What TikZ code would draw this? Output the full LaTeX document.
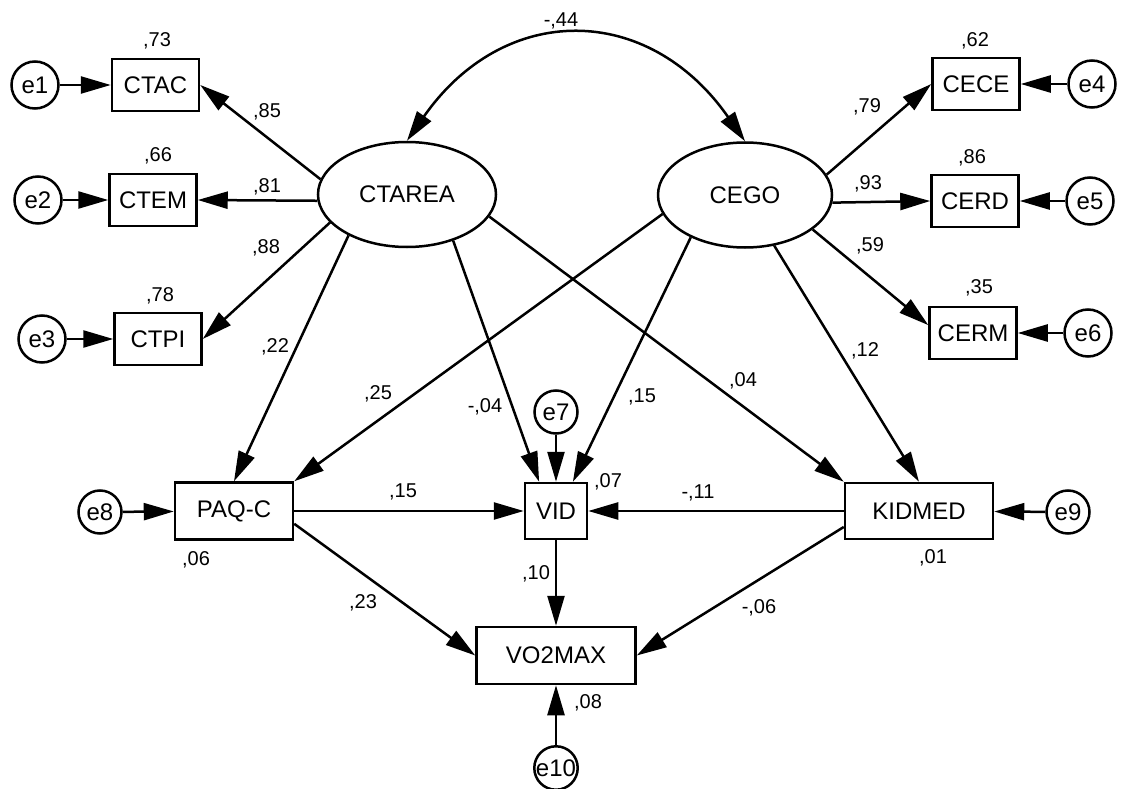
\documentclass[tikz,border=0pt]{standalone}
\usepackage{fontspec}
\setmainfont{Liberation Sans}
\usepackage{tikz}
\usetikzlibrary{arrows.meta}
\usetikzlibrary{shapes.geometric}
\tikzset{
    tnode/.style = {align=center, inner sep=0pt, text centered, draw=black, line width=2.5pt, font=\fontsize{24}{28}\selectfont},
    lat_node/.style = {tnode, ellipse, minimum width=178pt, minimum height=105pt},
    obs_node/.style = {tnode, rectangle, minimum width=87pt, minimum height=52pt},
    err_node/.style = {tnode, circle, minimum size=47pt},
    serr_node/.style = {tnode, circle, minimum size=43pt},
    coef/.style = {inner sep=0pt, font=\fontsize{20}{24}\selectfont}
}

\begin{document}
\begin{tikzpicture}[x=1pt, y=-1pt, line width=2.5pt, >={Triangle[length=30pt, width=17pt]}]
    \useasboundingbox (0,0) rectangle (1128,789);
    \node [lat_node] (CTAREA) at (407,194.5) {CTAREA};
    \node [lat_node, minimum width=174pt] (CEGO) at (745,195) {CEGO};
    \node [obs_node] (CTAC) at (155.5,85) {CTAC};
    \node [obs_node] (CTEM) at (153,200) {CTEM};
    \node [obs_node] (CTPI) at (158,339) {CTPI};
    \node [obs_node] (CECE) at (976,84) {CECE};
    \node [obs_node] (CERD) at (975,201) {CERD};
    \node [obs_node] (CERM) at (973,333) {CERM};
    \node [err_node] (e1) at (35,85) {e1};
    \node [err_node] (e2) at (38,200) {e2};
    \node [err_node] (e3) at (42,339) {e3};
    \node [err_node] (e4) at (1092,84) {e4};
    \node [err_node] (e5) at (1090,201) {e5};
    \node [err_node] (e6) at (1088,333) {e6};
    \node [obs_node, minimum width=118pt, minimum height=57pt] (PAQC) at (234,511) {PAQ-C};
    \node [obs_node, minimum width=62pt, minimum height=56pt] (VID) at (556,511) {VID};
    \node [obs_node, minimum width=148pt, minimum height=56pt] (KIDMED) at (919,511) {KIDMED};
    \node [obs_node, minimum width=159pt, minimum height=57pt] (VO2MAX) at (556,655.5) {VO2MAX};
    \node [serr_node] (e7) at (556,412) {e7};
    \node [serr_node] (e8) at (100,512) {e8};
    \node [serr_node] (e9) at (1068,512) {e9};
    \node [serr_node] (e10) at (556,768) {e10};

    \node [coef] (c_ctac) at (157,41) {,73};
    \node [coef] (c_ctem) at (158,156) {,66};
    \node [coef] (c_ctpi) at (160,296) {,78};
    \node [coef] (c_cece) at (975,41) {,62};
    \node [coef] (c_cerd) at (972,158) {,86};
    \node [coef] (c_cerm) at (979,288) {,35};
    \node [coef] (c_paqc) at (196,560) {,06};
    \node [coef] (c_vid) at (608,482) {,07};
    \node [coef] (c_kidmed) at (933,558) {,01};
    \node [coef] (c_vo2max) at (588,703) {,08};
    \node [coef] (w_ctac) at (267,112) {,85};
    \node [coef] (w_ctem) at (267,187) {,81};
    \node [coef] (w_ctpi) at (266,248) {,88};
    \node [coef] (w_cece) at (867,107) {,79};
    \node [coef] (w_cerd) at (868,184) {,93};
    \node [coef] (w_cerm) at (870,246) {,59};
    \node [coef] (w_cov) at (561,21) {-,44};
    \node [coef] (b_1) at (275,347) {,22};
    \node [coef] (b_2) at (378,394) {,25};
    \node [coef] (b_3) at (485,407) {-,04};
    \node [coef] (b_4) at (642,397) {,15};
    \node [coef] (b_5) at (743,381) {,04};
    \node [coef] (b_6) at (865,351) {,12};
    \node [coef] (b_7) at (403,492) {,15};
    \node [coef] (b_8) at (698,493) {-,11};
    \node [coef] (b_9) at (536,574) {,10};
    \node [coef] (b_10) at (363,603) {,23};
    \node [coef] (b_11) at (759,608) {-,06};

    \draw [<->] (CTAREA.north) .. controls +(97,-139) and +(-97,-139) .. (CEGO.north);
    \draw [->] (CTAREA.170) -- (CTAC.east);
    \draw [->] (CTAREA.184) -- (CTEM.east);
    \draw [->] (CTAREA.200) -- (CTPI.east);
    \draw [->] (CEGO.14) -- (CECE.west);
    \draw [->] (CEGO.355) -- (CERD.west);
    \draw [->] (CEGO.333) -- (CERM.170);
    \draw [->] (CTAREA.215) -- (PAQC.north);
    \draw [->] (CEGO.193) -- (PAQC.north east);
    \draw [->] (CTAREA.315) -- (VID.120);
    \draw [->] (CEGO.218) -- (VID.60);
    \draw [->] (CTAREA.345) -- (KIDMED.north west);
    \draw [->] (CEGO.300) -- (KIDMED.north);
    \draw [->] (PAQC) -- (VID);
    \draw [->] (KIDMED) -- (VID);
    \draw [->] (PAQC.348) -- (VO2MAX.west);
    \draw [->] (VID) -- (VO2MAX);
    \draw [->] (KIDMED.192) -- (VO2MAX.east);
    \foreach \err/\obs in {e1/CTAC, e2/CTEM, e3/CTPI, e4/CECE, e5/CERD, e6/CERM, e7/VID, e8/PAQC, e9/KIDMED, e10/VO2MAX}
        \draw [->] (\err) -- (\obs);
\end{tikzpicture}
\end{document}
